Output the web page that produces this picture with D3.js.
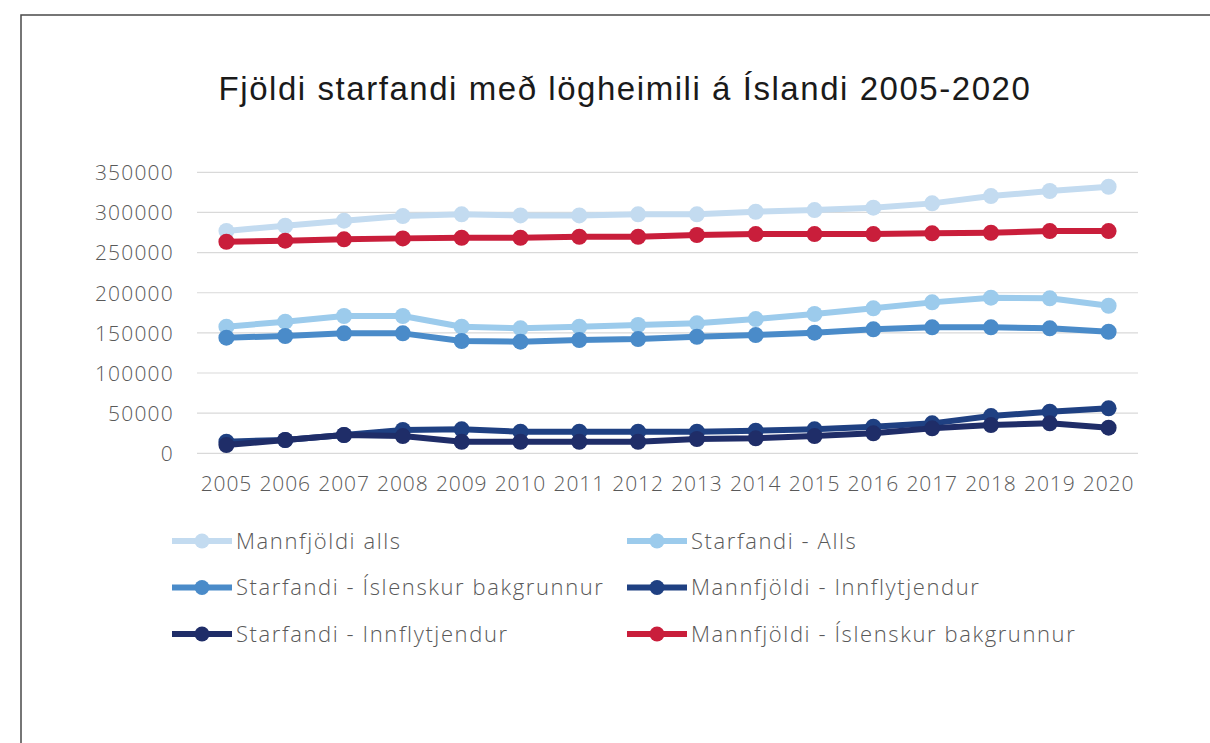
<!DOCTYPE html>
<html>
<head>
<meta charset="utf-8">
<script src="https://cdn.jsdelivr.net/npm/d3@7"></script>
<style>
  body { margin: 0; background: #fff; }
  svg text { font-family: "Open Sans", "Noto Sans", sans-serif; }
</style>
</head>
<body>
<svg id="chart" width="1210" height="743"></svg>
<script>
// chart data
var years = ["2005","2006","2007","2008","2009","2010","2011","2012","2013","2014","2015","2016","2017","2018","2019","2020"]
var mannfjoldi_alls = [277000, 283400, 289700, 295500, 297600, 296300, 296300, 297600, 297600, 300900, 303000, 305900, 311300, 320400, 326700, 332000]
var starfandi_alls = [157700, 163900, 171000, 171000, 157700, 155700, 157700, 159800, 161900, 167200, 173500, 180600, 188000, 193800, 193000, 183800]
var starfandi_isl = [144000, 146100, 149400, 149400, 139900, 139000, 141100, 142300, 145200, 147300, 150200, 154400, 156900, 156900, 155700, 151400]
var mannfjoldi_innfl = [14500, 16600, 22800, 29000, 29900, 26900, 26900, 26900, 26900, 28200, 29900, 33100, 37300, 46400, 51800, 56000]
var starfandi_innfl = [10300, 16600, 22800, 21500, 14400, 14400, 14400, 14400, 17800, 18700, 21500, 24900, 31100, 35200, 37300, 31900]
var mannfjoldi_isl = [263500, 264800, 266500, 267700, 268500, 268500, 269700, 269700, 271900, 273100, 273100, 273100, 274000, 274700, 276800, 276800]
var y_ticks = [0, 50000, 100000, 150000, 200000, 250000, 300000, 350000]

var series = [
    { name: "Mannfjöldi alls", values: mannfjoldi_alls, color: "#c3dbf0" },
    { name: "Starfandi - Alls", values: starfandi_alls, color: "#9ccbec" },
    { name: "Starfandi - Íslenskur bakgrunnur", values: starfandi_isl, color: "#4a8bc9" },
    { name: "Mannfjöldi - Innflytjendur", values: mannfjoldi_innfl, color: "#1f4082" },
    { name: "Starfandi - Innflytjendur", values: starfandi_innfl, color: "#1f2d68" },
    { name: "Mannfjöldi - Íslenskur bakgrunnur", values: mannfjoldi_isl, color: "#c91e3b" }
]

var svg = d3.select("#chart")

// outer frame
svg.append("rect")
    .attr("x", 21).attr("y", 15)
    .attr("width", 1300).attr("height", 900)
    .attr("fill", "none")
    .attr("stroke", "#4a4a4a")
    .attr("stroke-width", 1.5)

svg.append("text")
    .attr("x", 625).attr("y", 100)
    .attr("text-anchor", "middle")
    .style("font-family", "'Liberation Sans', Arial, sans-serif")
    .style("font-size", "33px")
    .style("letter-spacing", "1.55px")
    .attr("fill", "#1a1a1a")
    .text("Fjöldi starfandi með lögheimili á Íslandi 2005-2020")

var x = d3.scaleBand().domain(years).range([197, 1138])
var y = d3.scaleLinear().domain([0, 350000]).range([453.3, 172.3])

var g_axis = svg.append("g")

// gridlines
g_axis.selectAll("line.grid")
    .data(y_ticks).enter()
    .append("line")
    .attr("class", "grid")
    .attr("x1", 197).attr("x2", 1138)
    .attr("y1", d => y(d)).attr("y2", d => y(d))
    .attr("stroke", "#d9d9d9")
    .attr("stroke-width", 1.2)

var yAxis = svg.append("g")
    .attr("transform", "translate(174,0)")
    .call(d3.axisLeft(y).tickValues(y_ticks).tickSize(0).tickPadding(0).tickFormat(d3.format("d")))
yAxis.select(".domain").remove()
yAxis.selectAll("text")
    .style("font-size", "21px")
    .style("font-weight", 300)
    .style("letter-spacing", "1.2px")
    .attr("fill", "#595959")
    .attr("dy", "0.35em")

var xAxis = svg.append("g")
    .attr("transform", "translate(0,475)")
    .call(d3.axisBottom(x).tickSize(0).tickPadding(0))
xAxis.select(".domain").remove()
xAxis.selectAll("text")
    .style("font-size", "21px")
    .style("font-weight", 300)
    .style("letter-spacing", "0.9px")
    .attr("fill", "#595959")
    .attr("dy", "0.75em")

var line = d3.line()
    .x((d, i) => x(years[i]) + x.bandwidth() / 2)
    .y(d => y(d))

var g_lines = svg.append("g")
series.forEach(s => {
    g_lines.append("path")
        .attr("d", line(s.values))
        .attr("fill", "none")
        .attr("stroke", s.color)
        .attr("stroke-width", 6)
        .attr("stroke-linejoin", "round")
    g_lines.selectAll(null)
        .data(s.values).enter()
        .append("circle")
        .attr("cx", (d, i) => x(years[i]) + x.bandwidth() / 2)
        .attr("cy", d => y(d))
        .attr("r", 8)
        .attr("fill", s.color)
})

// legend, two columns
var legend = svg.append("g")
series.forEach((s, i) => {
    var lx = i % 2 == 0 ? 172 : 627
    var ly = 541 + Math.floor(i / 2) * 46.5
    var item = legend.append("g").attr("transform", "translate(" + lx + "," + ly + ")")
    item.append("line")
        .attr("x1", 0).attr("x2", 60)
        .attr("y1", 0).attr("y2", 0)
        .attr("stroke", s.color)
        .attr("stroke-width", 6)
    item.append("circle")
        .attr("cx", 30).attr("cy", 0).attr("r", 7.5)
        .attr("fill", s.color)
    item.append("text")
        .attr("x", 64).attr("y", 0)
        .attr("dy", "0.35em")
        .style("font-size", "22px")
        .style("font-weight", 300)
        .style("letter-spacing", "1.6px")
        .attr("fill", "#595959")
        .text(s.name)
})
</script>
</body>
</html>
